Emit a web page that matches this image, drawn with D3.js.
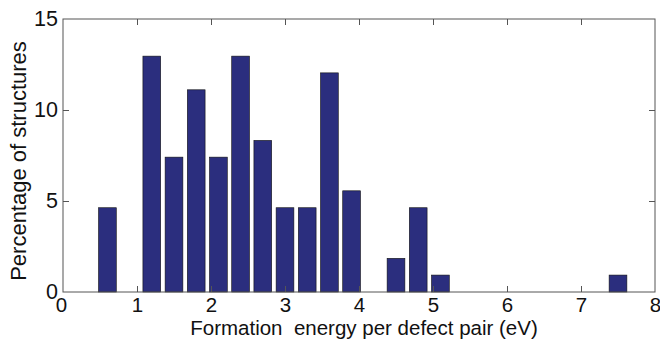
<!DOCTYPE html>
<html>
<head>
<meta charset="utf-8">
<script src="https://cdnjs.cloudflare.com/ajax/libs/d3/7.8.5/d3.min.js"></script>
<style>
  body { margin: 0; background: #fff; }
  text { font-family: "Liberation Sans", Arial, sans-serif; fill: #111; }
</style>
</head>
<body>
<div id="chart"></div>
<script>
// bin centres (eV) and percentage of structures
var binCenters = [0.6, 1.2, 1.5, 1.8, 2.1, 2.4, 2.7, 3.0, 3.3, 3.6, 3.9, 4.5, 4.8, 5.1, 7.5];
var percentages = [4.63, 12.96, 7.41, 11.11, 7.41, 12.96, 8.33, 4.63, 4.63, 12.04, 5.56, 1.85, 4.63, 0.93, 0.93];
var xTicks = [0, 1, 2, 3, 4, 5, 6, 7, 8];
var yTicks = [0, 5, 10, 15];

var svgWidth = 660, svgHeight = 339;
var margin = { top: 19, right: 5, bottom: 47, left: 63 };
var chartWidth = svgWidth - margin.left - margin.right;
var chartHeight = svgHeight - margin.top - margin.bottom;

var svg = d3.select("#chart").append("svg")
  .attr("width", svgWidth)
  .attr("height", svgHeight);

var g = svg.append("g")
  .attr("transform", `translate(${margin.left}, ${margin.top})`);

var xScale = d3.scaleLinear().domain([0, 8]).range([0, chartWidth]);
var yScale = d3.scaleLinear().domain([0, 15]).range([chartHeight, 0]);
var barWidth = xScale(0.24) - xScale(0);

// bars
g.selectAll("rect.bar")
  .data(binCenters)
  .enter()
  .append("rect")
  .attr("class", "bar")
  .attr("x", (d) => xScale(d) - barWidth / 2)
  .attr("y", (d, i) => yScale(percentages[i]))
  .attr("width", barWidth)
  .attr("height", (d, i) => yScale(0) - yScale(percentages[i]))
  .attr("fill", "#2b2e7e")
  .attr("stroke", "#111")
  .attr("stroke-width", 0.6);

// axes, matlab style (ticks inside, box around)
var tickLen = 6;
function styleAxis(sel) {
  sel.select(".domain").remove();
  sel.selectAll(".tick line").attr("stroke", "#555");
}

var xAxis = g.append("g")
  .attr("transform", `translate(0, ${chartHeight})`)
  .call(d3.axisBottom(xScale).tickValues(xTicks).tickSize(-tickLen).tickPadding(5));
styleAxis(xAxis);
xAxis.selectAll(".tick text").attr("font-size", 20.5).attr("fill", "#111");
xAxis.selectAll(".tick").filter((d) => d === 0 || d === 8).select("line").remove();
xAxis.selectAll(".tick").filter((d) => d === 0).select("text").attr("dx", -2);

var xTop = g.append("g")
  .call(d3.axisTop(xScale).tickValues(xTicks.slice(1, -1)).tickSize(-tickLen).tickFormat(""));
styleAxis(xTop);

var yAxis = g.append("g")
  .call(d3.axisLeft(yScale).tickValues(yTicks).tickSize(-tickLen).tickPadding(5));
styleAxis(yAxis);
yAxis.selectAll(".tick text").attr("font-size", 21.5).attr("fill", "#111");
yAxis.selectAll(".tick").filter((d) => d === 0 || d === 15).select("line").remove();

var yRight = g.append("g")
  .attr("transform", `translate(${chartWidth}, 0)`)
  .call(d3.axisRight(yScale).tickValues(yTicks.slice(1, -1)).tickSize(-tickLen).tickFormat(""));
styleAxis(yRight);

// box
g.append("rect")
  .attr("width", chartWidth)
  .attr("height", chartHeight)
  .attr("fill", "none")
  .attr("stroke", "#555")
  .attr("stroke-width", 1);

// labels
svg.append("text")
  .attr("x", 364)
  .attr("y", 334.5)
  .attr("text-anchor", "middle")
  .attr("font-size", 20.5)
  .style("white-space", "pre")
  .text("Formation  energy per defect pair (eV)");

svg.append("text")
  .attr("transform", `translate(26, 161) rotate(-90)`)
  .attr("text-anchor", "middle")
  .attr("font-size", 22)
  .text("Percentage of structures");
</script>
</body>
</html>
